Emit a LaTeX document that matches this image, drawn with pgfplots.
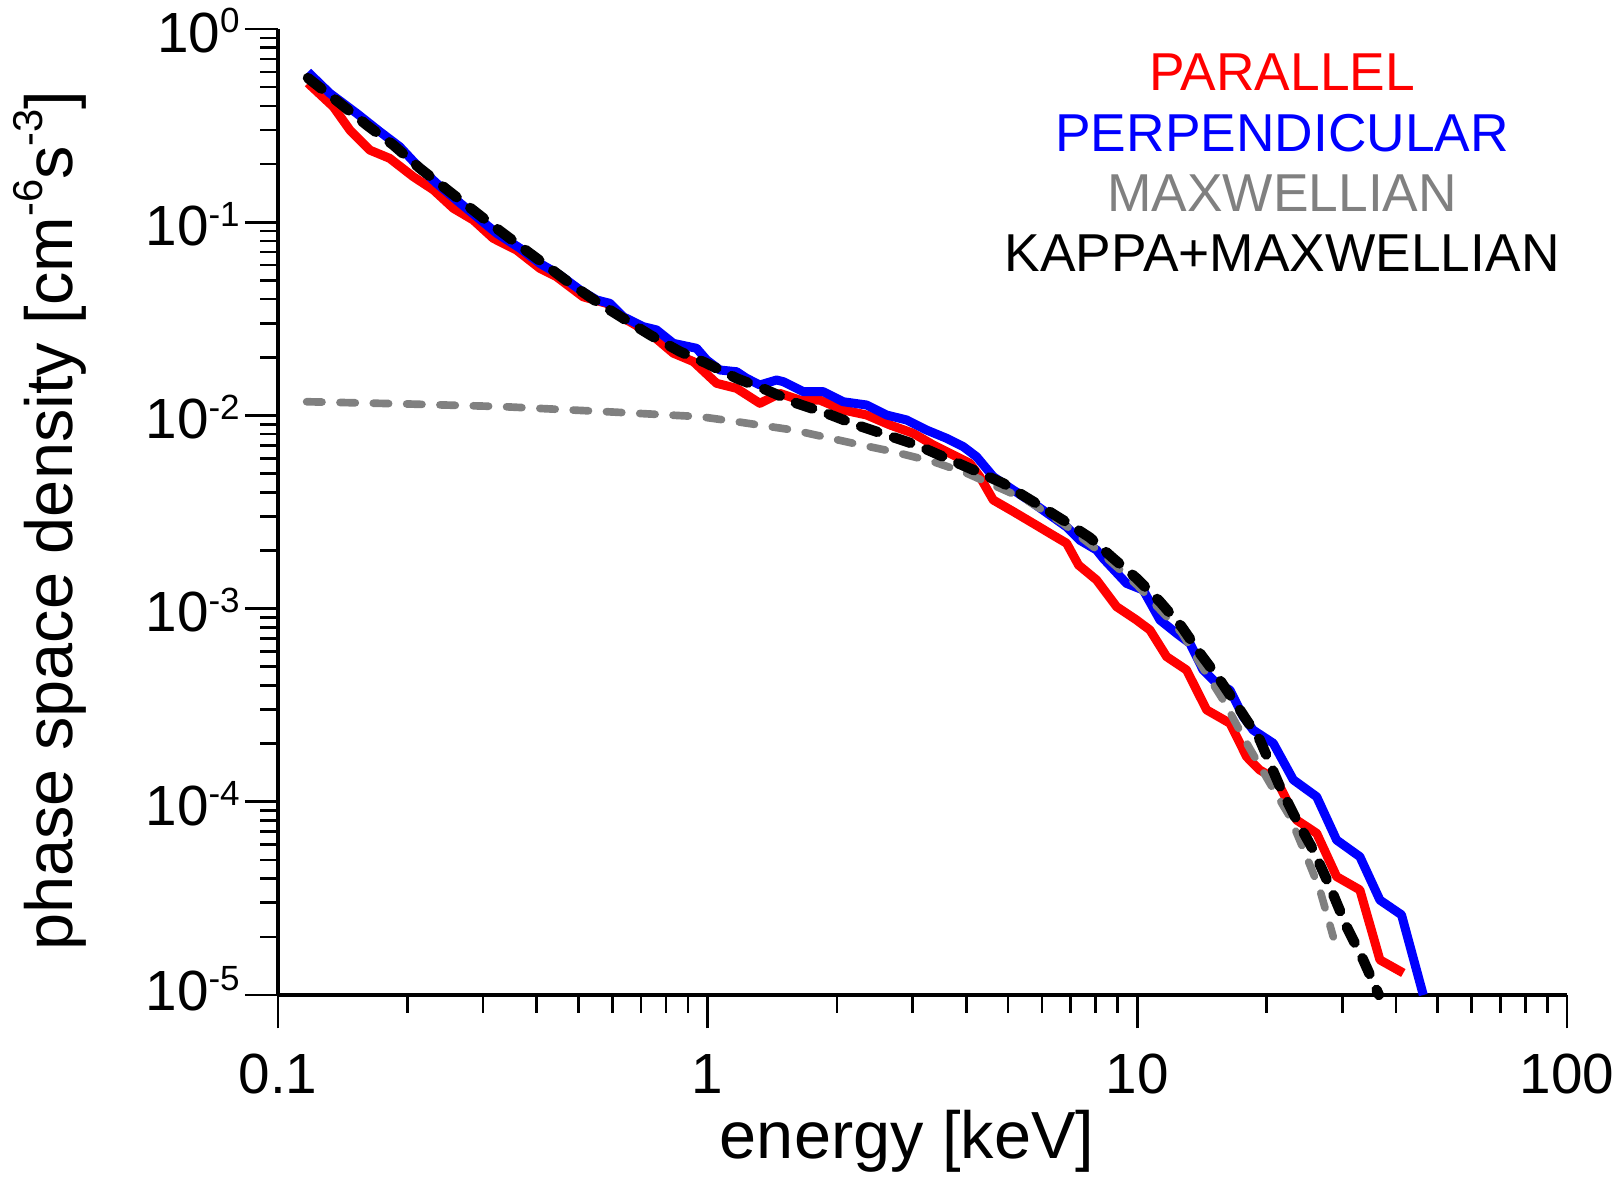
\documentclass[border=0pt]{standalone}
\usepackage{pgfplots}
\pgfplotsset{compat=1.18}
\usepackage{fontspec}
\setmainfont{Liberation Sans}
\newcommand{\sups}[1]{\raisebox{5.8pt}{\fontsize{10.5pt}{10.5pt}\selectfont #1}}
\newcommand{\lsups}[1]{\raisebox{0.45em}{\fontsize{12.5pt}{12.5pt}\selectfont #1}}

\pgfplotstableread{
x y
0.1174 0.525
0.1345 0.396
0.147 0.300
0.1637 0.236
0.182 0.214
0.2065 0.172
0.230 0.147
0.256 0.118
0.2848 0.1026
0.317 0.0825
0.359 0.0718
0.407 0.0577
0.445 0.0522
0.513 0.0411
0.582 0.038
0.648 0.0312
0.734 0.0266
0.832 0.0210
0.926 0.019
1.049 0.01466
1.168 0.0138
1.323 0.01155
1.473 0.0130
1.64 0.0120
1.825 0.0120
2.068 0.01067
2.344 0.01005
2.657 0.00892
3.01 0.00808
3.35 0.00703
3.80 0.00611
4.078 0.00565
4.30 0.00482
4.62 0.00365
5.144 0.00318
5.727 0.00276
6.36 0.0024
6.845 0.00218
7.3 0.00168
8.04 0.001406
8.95 0.001023
9.96 0.000873
10.7 0.000775
11.7 0.000564
13.02 0.000481
14.5 0.000299
16.43 0.000255
17.97 0.000171
19.29 0.000146
21.1 0.00013
23.48 8.05e-5
26.15 6.87e-5
29.1 4.1e-5
32.96 3.5e-5
36.7 1.52e-5
41.6 1.3e-5
}\parallel

\pgfplotstableread{
x y
0.1174 0.599
0.132 0.465
0.1525 0.366
0.1727 0.294
0.192 0.246
0.2103 0.198
0.234 0.159
0.2604 0.130
0.290 0.1068
0.323 0.0876
0.366 0.0733
0.407 0.0612
0.453 0.0533
0.5045 0.0446
0.5515 0.0396
0.5926 0.038
0.636 0.0324
0.708 0.0288
0.7606 0.0277
0.832 0.0236
0.9425 0.02225
0.995 0.01935
1.068 0.01718
1.168 0.01683
1.232 0.01556
1.323 0.01437
1.447 0.01525
1.5 0.01495
1.67 0.01327
1.858 0.01327
2.068 0.01177
2.344 0.01132
2.609 0.01005
2.905 0.00947
3.233 0.0084
3.6 0.00761
3.936 0.00689
4.227 0.00611
4.62 0.00482
5.144 0.00411
5.727 0.00351
6.26 0.00305
6.845 0.00265
7.35 0.00226
8.04 0.00201
8.33 0.00182
9.44 0.00135
10.32 0.001248
11.29 0.000873
12.34 0.000745
13.26 0.000661
14.23 0.000481
15.29 0.000411
16.43 0.000379
17.64 0.000276
18.61 0.000235
20.72 0.000201
23.07 0.00013
26.15 0.0001062
29.1 6.34e-5
32.96 5.2e-5
36.7 3.1e-5
41.2 2.6e-5
46.3 1.0e-5
}\perpendicular

\pgfplotstableread{
x y
0.1166 0.01177
0.2 0.01146
0.334 0.0111
0.582 0.01045
0.96 0.00985
1.168 0.00928
1.582 0.0084
2.183 0.00717
2.704 0.00649
3.35 0.00576
4.006 0.00502
4.705 0.00428
5.525 0.00365
6.72 0.00276
8.18 0.00197
10.0 0.00132
12.68 0.00075
14.0 0.00052
15.85 0.000336
17.97 0.000201
20.35 0.0001247
22.65 8.37e-5
24.77 5.2e-5
26.6 3.5e-5
28.58 2.0e-5
}\maxwellian

\pgfplotstableread{
x y
0.1174 0.558
0.1394 0.4125
0.1608 0.3186
0.1855 0.251
0.214 0.190
0.2425 0.1527
0.2748 0.1227
0.3113 0.0987
0.359 0.0778
0.4146 0.0613
0.478 0.0483
0.5515 0.0388
0.636 0.0318
0.734 0.0261
0.862 0.0214
0.995 0.0186
1.168 0.01556
1.372 0.01353
1.611 0.01155
1.892 0.01025
2.222 0.00892
2.609 0.00792
3.064 0.00703
3.60 0.0060
4.153 0.00522
4.877 0.00445
5.725 0.00358
6.72 0.00287
7.76 0.00233
8.79 0.00182
9.96 0.001435
11.29 0.001086
12.68 0.000806
13.99 0.000587
15.57 0.000427
17.33 0.000299
19.29 0.000209
21.47 0.0001198
23.48 8.05e-5
25.67 5.63e-5
28.07 3.64e-5
30.69 2.26e-5
33.56 1.52e-5
36.5 1.0e-5
}\kappamax

\begin{document}
\begin{tikzpicture}
\useasboundingbox (-83.4pt,-54.6pt) rectangle (401.4pt,298.5pt);
\begin{axis}[
  at={(0,0)}, anchor=south west,
  width=386.7pt, height=289.8pt, scale only axis,
  xmode=log, ymode=log,
  xmin=0.1, xmax=100, ymin=1e-5, ymax=1,
  axis lines*=left,
  axis line style={line width=1pt},
  tick align=outside,
  major tick length=10pt, minor tick length=5.3pt,
  every tick/.style={black, line width=0.8pt},
  xtick={0.1,1,10,100}, xticklabels={0.1,1,10,100},
  ytick={1e-5,1e-4,1e-3,1e-2,1e-1,1},
  yticklabels={\raisebox{2.5pt}{10\sups{-5}},10\sups{-4},10\sups{-3},10\sups{-2},10\sups{-1},10\sups{0}},
  tick label style={font=\fontsize{17pt}{20pt}\selectfont},
  xticklabel style={anchor=base, yshift=-19.5pt},
  yticklabel style={anchor=base east, yshift=-7pt, xshift=2pt},
  clip=false,
  xlabel={energy [keV]},
  ylabel={phase space density [cm\lsups{-6}s\lsups{-3}]},
  label style={font=\fontsize{20pt}{24pt}\selectfont},
  xlabel style={at={([yshift=-49pt]rel axis cs:0.488,0)}, anchor=base},
  ylabel style={at={([xshift=-68.5pt]rel axis cs:0,0.491)}, anchor=center},
]
\addplot[red, line width=2.7pt, line join=round] table {\parallel};
\addplot[blue, line width=2.7pt, line join=round] table {\perpendicular};
\addplot[gray, line width=2.3pt, line cap=round, dash pattern=on 4.6pt off 5.4pt] table {\maxwellian};
\addplot[black, line width=3.1pt, line cap=round, dash pattern=on 5.2pt off 5.2pt] table {\kappamax};
\node[anchor=base, text=red, font=\fontsize{16pt}{19pt}\selectfont] at (rel axis cs:0.779,0.936) {PARALLEL};
\node[anchor=base, text=blue, font=\fontsize{16pt}{19pt}\selectfont] at (rel axis cs:0.779,0.873) {PERPENDICULAR};
\node[anchor=base, text=gray, font=\fontsize{16pt}{19pt}\selectfont] at (rel axis cs:0.779,0.811) {MAXWELLIAN};
\node[anchor=base, text=black, font=\fontsize{16pt}{19pt}\selectfont] at (rel axis cs:0.779,0.749) {KAPPA+MAXWELLIAN};
\end{axis}
\end{tikzpicture}
\end{document}
